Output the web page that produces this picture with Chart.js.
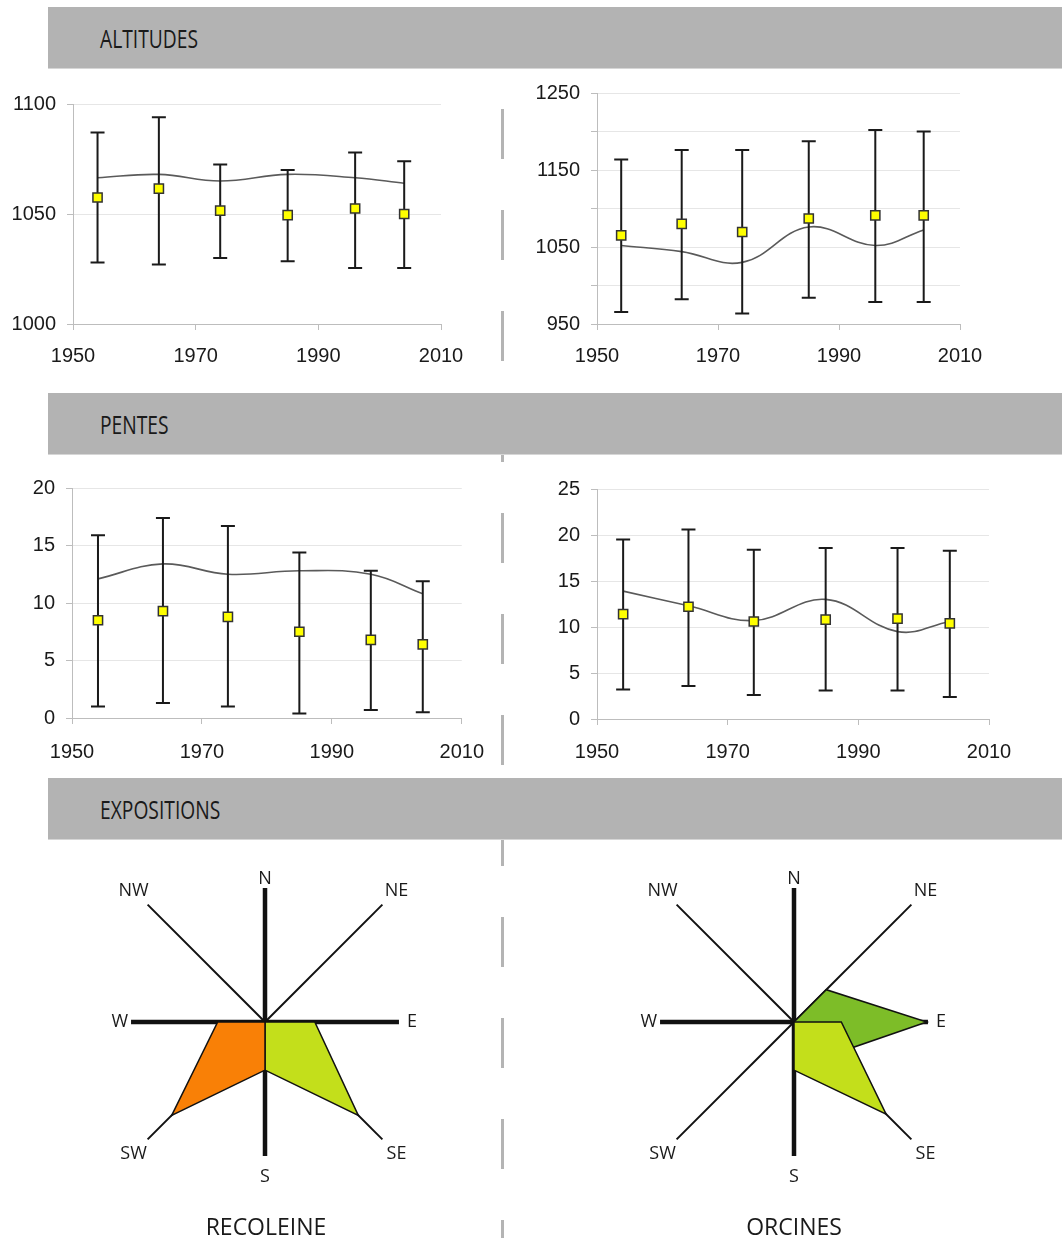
<!DOCTYPE html>
<html lang="fr">
<head>
<meta charset="utf-8">
<title>Altitudes, pentes, expositions</title>
<script src="https://cdn.jsdelivr.net/npm/chart.js@4.4.1/dist/chart.umd.min.js"></script>
<style>
  html, body { margin: 0; padding: 0; background: #fff; }
  #page { position: relative; width: 1062px; height: 1238px; overflow: hidden; font-family: "Open Sans", sans-serif; }
  .divider { position: absolute; left: 501px; top: 109px; width: 3px; height: 1129px;
    background: repeating-linear-gradient(to bottom, #b4b4b4 0 50px, transparent 50px 101px); }
  .bandeau { position: absolute; left: 48px; width: 1014px; height: 61px; background: #b3b3b3; border-bottom: 1px solid #d6d6d6; }
  .bandeau span { position: absolute; left: 52px; top: 50%; transform: translateY(-50%) scaleX(0.77); transform-origin: left center;
    font-size: 25px; color: #1a1a1a; white-space: nowrap; }
  .box { position: absolute; }
  .box canvas { display: block; }
  .site { position: absolute; top: 1210px; width: 240px; margin-left: -120px; text-align: center; font-size: 23px; color: #1a1a1a; }
</style>
</head>
<body>
<div id="page">
  <div class="divider"></div>

  <div class="bandeau" style="top:7px"><span>ALTITUDES</span></div>
  <div class="bandeau" style="top:393px"><span>PENTES</span></div>
  <div class="bandeau" style="top:778px"><span>EXPOSITIONS</span></div>

  <div class="box" style="left:0;top:80px"><canvas id="altRecoleine" width="480" height="300"></canvas></div>
  <div class="box" style="left:520px;top:69px"><canvas id="altOrcines" width="542" height="311"></canvas></div>
  <div class="box" style="left:0;top:464px"><canvas id="penRecoleine" width="500" height="306"></canvas></div>
  <div class="box" style="left:520px;top:465px"><canvas id="penOrcines" width="542" height="305"></canvas></div>

  <div class="box" style="left:65px;top:822px"><canvas id="roseRecoleine" width="400" height="400"></canvas></div>
  <div class="box" style="left:594px;top:822px"><canvas id="roseOrcines" width="400" height="400"></canvas></div>

  <div class="site" style="left:266px">RECOLEINE</div>
  <div class="site" style="left:794px">ORCINES</div>
</div>

<script>
// Annees des releves et graduations
const ANNEES = [1954, 1964, 1974, 1985, 1996, 2004];
const TICKS_ANNEES = [1950, 1970, 1990, 2010];

// Altitudes - Recoleine
const altRecMoy = [1057.5, 1061.5, 1051.5, 1049.5, 1052.5, 1050];
const altRecMin = [1028, 1027, 1030, 1028.5, 1025.5, 1025.5];
const altRecMax = [1087, 1094, 1072.5, 1070, 1078, 1074];
const altRecTend = [1066.5, 1068, 1065, 1068, 1066.5, 1064];
const altRecTicks = [1000, 1050, 1100];

// Altitudes - Orcines
const altOrcMoy = [1065, 1080, 1069.5, 1087, 1091, 1091];
const altOrcMin = [965.5, 982, 963.5, 984, 978.5, 978.5];
const altOrcMax = [1163.5, 1176, 1176, 1187.5, 1202, 1200];
const altOrcTend = [1052, 1044, 1030, 1076, 1052, 1072];
const altOrcTicks = [950, 1000, 1050, 1100, 1150, 1200, 1250];

// Pentes - Recoleine
const penRecMoy = [8.5, 9.3, 8.8, 7.5, 6.8, 6.4];
const penRecMin = [1, 1.3, 1, 0.4, 0.7, 0.5];
const penRecMax = [15.9, 17.4, 16.7, 14.4, 12.8, 11.9];
const penRecTend = [12.1, 13.4, 12.5, 12.8, 12.5, 10.8];
const penRecTicks = [0, 5, 10, 15, 20];

// Pentes - Orcines
const penOrcMoy = [11.4, 12.2, 10.6, 10.8, 10.9, 10.4];
const penOrcMin = [3.2, 3.6, 2.6, 3.1, 3.1, 2.4];
const penOrcMax = [19.5, 20.6, 18.4, 18.6, 18.6, 18.3];
const penOrcTend = [13.9, 12.3, 10.7, 13.0, 9.5, 10.6];
const penOrcTicks = [0, 5, 10, 15, 20, 25];

// Expositions (rose des vents)
const DIRECTIONS = ['N', 'NE', 'E', 'SE', 'S', 'SW', 'W', 'NW'];
const recoleineSO = [0, 0, 0, 0, 29, 79.5, 28.5, 0];
const recoleineSE = [0, 0, 30, 79.5, 29, 0, 0, 0];
const orcinesSE = [0, 0, 28.5, 78.5, 29, 0, 0, 0];
const orcinesE = [0, 27.5, 80, 29, 0, 0, 0, 0];

const POLICE_AXES = { family: '"Liberation Sans", Arial, sans-serif', size: 20 };

function barresErreur(mins, maxs) {
  return {
    id: 'barresErreur',
    beforeDatasetDraw(chart, args) {
      if (args.index !== 0) return;
      const { ctx, scales: { x, y } } = chart;
      ctx.save();
      ctx.strokeStyle = '#1a1a1a';
      ctx.lineWidth = 2;
      ANNEES.forEach((a, i) => {
        const px = x.getPixelForValue(a);
        const yb = y.getPixelForValue(mins[i]);
        const yh = y.getPixelForValue(maxs[i]);
        ctx.beginPath();
        ctx.moveTo(px, yh); ctx.lineTo(px, yb);
        ctx.moveTo(px - 7, yh); ctx.lineTo(px + 7, yh);
        ctx.moveTo(px - 7, yb); ctx.lineTo(px + 7, yb);
        ctx.stroke();
      });
      ctx.restore();
    }
  };
}

function graphiqueAnnuel(id, cfg) {
  const points = ANNEES.map((a, i) => ({ x: a, y: cfg.moy[i] }));
  const tendance = ANNEES.map((a, i) => ({ x: a, y: cfg.tend[i] }));
  return new Chart(document.getElementById(id), {
    type: 'scatter',
    data: {
      datasets: [
        { data: points, pointStyle: 'rect', pointRadius: 6.5, backgroundColor: '#ffff00', borderColor: '#333', borderWidth: 1.5 },
        { type: 'line', data: tendance, borderColor: '#5a5a5a', borderWidth: 1.6, pointRadius: 0, tension: 0.4, fill: false }
      ]
    },
    options: {
      responsive: false,
      animation: false,
      events: [],
      layout: { padding: { top: cfg.haut, right: cfg.droite, left: 0, bottom: 0 } },
      plugins: { legend: { display: false }, tooltip: { enabled: false } },
      scales: {
        x: {
          type: 'linear', min: 1950, max: 2010,
          afterBuildTicks: s => { s.ticks = TICKS_ANNEES.map(v => ({ value: v })); },
          afterFit: s => { s.height = cfg.bas; },
          border: { color: '#bdbdbd', width: 1 },
          grid: { drawOnChartArea: false, tickLength: 6, tickColor: '#bdbdbd' },
          ticks: { color: '#1a1a1a', font: POLICE_AXES, padding: cfg.padX, maxRotation: 0, callback: v => String(v) }
        },
        y: {
          min: cfg.ticks[0], max: cfg.ticks[cfg.ticks.length - 1],
          afterBuildTicks: s => { s.ticks = cfg.ticks.map(v => ({ value: v })); },
          afterFit: s => { s.width = cfg.gauche; },
          border: { color: '#bdbdbd', width: 1 },
          grid: { color: '#e6e6e6', tickLength: 6, tickColor: '#bdbdbd' },
          ticks: { color: '#1a1a1a', font: POLICE_AXES, padding: 11,
            callback: (v, i) => (i % cfg.pas === 0 ? String(v) : '') }
        }
      }
    },
    plugins: [barresErreur(cfg.min, cfg.max)]
  });
}

graphiqueAnnuel('altRecoleine', { moy: altRecMoy, min: altRecMin, max: altRecMax, tend: altRecTend, ticks: altRecTicks, pas: 1,
  gauche: 73, droite: 39, haut: 24, bas: 56, padX: 14 });
graphiqueAnnuel('altOrcines', { moy: altOrcMoy, min: altOrcMin, max: altOrcMax, tend: altOrcTend, ticks: altOrcTicks, pas: 2,
  gauche: 77, droite: 102, haut: 24, bas: 56, padX: 14 });
graphiqueAnnuel('penRecoleine', { moy: penRecMoy, min: penRecMin, max: penRecMax, tend: penRecTend, ticks: penRecTicks, pas: 1,
  gauche: 72, droite: 34, haut: 24, bas: 52, padX: 16 });
graphiqueAnnuel('penOrcines', { moy: penOrcMoy, min: penOrcMin, max: penOrcMax, tend: penOrcTend, ticks: penOrcTicks, pas: 1,
  gauche: 77, droite: 73, haut: 24, bas: 51, padX: 15 });

// Branches et lettres de la rose
const LONGUEUR_CARD = 80.7;
const LONGUEUR_DIAG = 100;
const DISTANCE_LETTRES = [86.5, 112, 88.5, 112, 93.5, 112, 87.5, 112];

const roseDesVents = {
  id: 'roseDesVents',
  beforeDatasetsDraw(chart) {
    const r = chart.scales.r, ctx = chart.ctx;
    ctx.save();
    ctx.strokeStyle = '#111';
    DIRECTIONS.forEach((d, i) => {
      const cardinal = i % 2 === 0;
      const fin = r.getPointPositionForValue(i, cardinal ? LONGUEUR_CARD : LONGUEUR_DIAG);
      ctx.lineWidth = cardinal ? 4.5 : 2;
      ctx.beginPath();
      ctx.moveTo(r.xCenter, r.yCenter);
      ctx.lineTo(fin.x, fin.y);
      ctx.stroke();
    });
    ctx.restore();
  },
  afterDraw(chart) {
    const r = chart.scales.r, ctx = chart.ctx;
    ctx.save();
    ctx.fillStyle = '#1a1a1a';
    ctx.font = '18px "Open Sans", sans-serif';
    ctx.textAlign = 'center';
    ctx.textBaseline = 'middle';
    DIRECTIONS.forEach((d, i) => {
      const p = r.getPointPositionForValue(i, DISTANCE_LETTRES[i]);
      ctx.fillText(d, p.x, p.y);
    });
    ctx.restore();
  }
};

function rose(id, series) {
  return new Chart(document.getElementById(id), {
    type: 'radar',
    data: {
      labels: DIRECTIONS,
      datasets: series.map(s => ({
        data: s.valeurs, backgroundColor: s.couleur, borderColor: '#111', borderWidth: 1.5,
        pointRadius: 0, fill: 'start', tension: 0
      }))
    },
    options: {
      responsive: false,
      animation: false,
      events: [],
      layout: { padding: 34 },
      plugins: { legend: { display: false }, tooltip: { enabled: false } },
      scales: {
        r: {
          min: 0, max: 100,
          grid: { display: false },
          angleLines: { display: false },
          pointLabels: { display: false },
          ticks: { display: false }
        }
      }
    },
    plugins: [roseDesVents]
  });
}

rose('roseRecoleine', [
  { valeurs: recoleineSO, couleur: '#f98006' },
  { valeurs: recoleineSE, couleur: '#c3df1b' }
]);
rose('roseOrcines', [
  { valeurs: orcinesSE, couleur: '#c3df1b' },
  { valeurs: orcinesE, couleur: '#7dbd28' }
]);
</script>
</body>
</html>
